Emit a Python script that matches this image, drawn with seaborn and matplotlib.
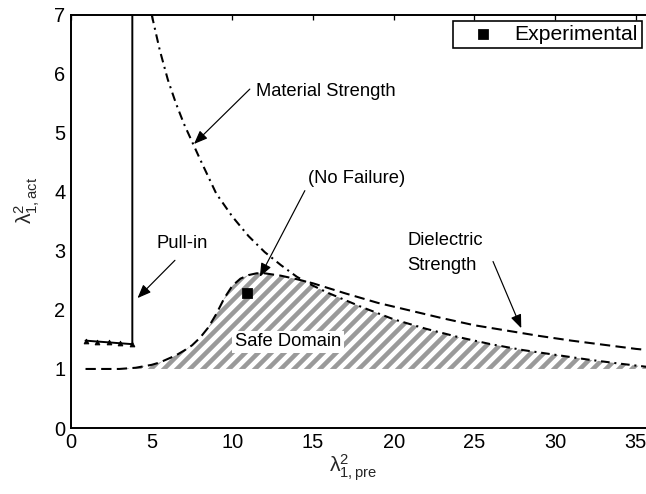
import numpy as np
import pandas as pd
import matplotlib
matplotlib.use("Agg")
import matplotlib.pyplot as plt
import seaborn as sns

# ---- data ----
dielectric_x = [0.9, 2, 3, 4, 5, 5.5, 6, 6.5, 7, 7.5, 8, 8.5, 9, 9.5, 10, 10.5,
                11, 11.5, 12, 13, 14, 15, 17, 19, 21, 23, 25, 27, 29, 31, 33, 35, 36.5]
dielectric_y = [1.0, 1.0, 1.0, 1.02, 1.07, 1.11, 1.17, 1.23, 1.31, 1.40, 1.53, 1.70,
                1.93, 2.2, 2.41, 2.53, 2.59, 2.62, 2.62, 2.58, 2.52, 2.45, 2.28, 2.12,
                1.99, 1.86, 1.74, 1.65, 1.56, 1.48, 1.41, 1.34, 1.30]

material_x = [5.0, 5.5, 6, 6.5, 7, 7.5, 8, 9, 10, 11, 12, 13, 14, 15, 16, 18, 20,
              22, 24, 26, 28, 30, 32, 34, 36.5]
material_y = [7.0, 6.4, 5.9, 5.5, 5.15, 4.85, 4.55, 3.97, 3.58, 3.25, 2.98, 2.76,
              2.56, 2.41, 2.28, 2.05, 1.84, 1.68, 1.54, 1.42, 1.32, 1.24, 1.16, 1.09, 1.01]

pullin_x = [0.9, 1.6, 2.35, 3.05, 3.8, 3.8]
pullin_y = [1.48, 1.465, 1.45, 1.435, 1.42, 7.0]

exp_x = [10.9]
exp_y = [2.28]

x_ticks = [0, 5, 10, 15, 20, 25, 30, 35]
y_ticks = [0, 1, 2, 3, 4, 5, 6, 7]

# ---- style ----
sns.set_theme(style="white")
DPI = 78
plt.rcParams.update({
    "font.family": ["Liberation Sans", "DejaVu Sans"],
    "mathtext.fontset": "custom",
    "mathtext.rm": "Liberation Sans",
    "mathtext.it": "Liberation Sans:italic",
    "mathtext.bf": "Liberation Sans:bold",
    "hatch.linewidth": 4.2,
    "hatch.color": "#9a9a9a",
    "axes.edgecolor": "black",
    "text.color": "black",
})

fig = plt.figure(figsize=(646 / DPI, 494 / DPI), dpi=DPI)
ax = fig.add_axes([71 / 646, 66 / 494, 581 / 646, 413.3 / 494])

# safe domain hatch
grid = np.linspace(min(dielectric_x), max(dielectric_x), 500)
upper = np.minimum(np.interp(grid, dielectric_x, dielectric_y),
                   np.interp(grid, material_x, material_y))
ax.fill_between(grid, 1.0, upper, facecolor="none", edgecolor="#9a9a9a",
                hatch="//", linewidth=0, zorder=1)

df_d = pd.DataFrame({"x": dielectric_x, "y": dielectric_y})
df_m = pd.DataFrame({"x": material_x, "y": material_y})
df_p = pd.DataFrame({"x": pullin_x, "y": pullin_y})
df_e = pd.DataFrame({"x": exp_x, "y": exp_y})

sns.lineplot(data=df_d, x="x", y="y", ax=ax, color="black", lw=1.9,
             estimator=None, sort=False, legend=False, zorder=3)
ax.lines[-1].set_dashes((5, 2.6))
sns.lineplot(data=df_m, x="x", y="y", ax=ax, color="black", lw=1.9,
             estimator=None, sort=False, legend=False, zorder=3)
ax.lines[-1].set_dashes((4.2, 2.3, 1.0, 2.3))
sns.lineplot(data=df_p, x="x", y="y", ax=ax, color="black", lw=1.8,
             estimator=None, sort=False, legend=False, zorder=3,
             marker="^", markersize=4.5, markevery=[0, 1, 2, 3, 4],
             markeredgecolor="black", markerfacecolor="black")
sns.scatterplot(data=df_e, x="x", y="y", ax=ax, color="black", marker="s",
                s=80, edgecolor="black", label="Experimental", zorder=4)

# annotations
tfs = 17
arrow = dict(arrowstyle="-|>,head_length=0.7,head_width=0.28", color="black",
             lw=1.1, shrinkA=0, shrinkB=0, mutation_scale=15)
ax.text(11.46, 5.70, "Material Strength", ha="left", va="center", fontsize=tfs)
ax.annotate("", xy=(7.62, 4.81), xytext=(11.08, 5.74), arrowprops=arrow)
ax.text(14.69, 4.22, "(No Failure)", ha="left", va="center", fontsize=tfs)
ax.annotate("", xy=(11.7, 2.56), xytext=(14.49, 4.02), arrowprops=arrow)
ax.text(5.31, 3.13, "Pull-in", ha="left", va="center", fontsize=tfs)
ax.annotate("", xy=(4.12, 2.2), xytext=(6.44, 2.84), arrowprops=arrow)
ax.text(20.85, 3.17, "Dielectric", ha="left", va="center", fontsize=tfs)
ax.text(20.85, 2.76, "Strength", ha="left", va="center", fontsize=tfs)
ax.annotate("", xy=(27.9, 1.69), xytext=(26.15, 2.82), arrowprops=arrow)
ax.text(10.15, 1.46, "Safe Domain", ha="left", va="center", fontsize=tfs,
        bbox=dict(facecolor="white", edgecolor="none", pad=2.5), zorder=5)

# axes
ax.set_xlim(0, 36)
ax.set_ylim(0, 7)
ax.set_xticks(x_ticks)
ax.set_yticks(y_ticks)
ax.tick_params(direction="in", top=True, right=True, length=4.5, width=1.2,
               labelsize=18.5, pad=5, colors="black")
for sp in ax.spines.values():
    sp.set_visible(True)
    sp.set_linewidth(1.8)
    sp.set_color("black")

ax.set_xlabel(r"$\mathrm{\lambda}^{2}_{\mathrm{1,pre}}$", fontsize=19.5)
ax.set_ylabel(r"$\mathrm{\lambda}^{2}_{\mathrm{1,act}}$", fontsize=19.5)
ax.xaxis.set_label_coords(0.485, -0.058)
ax.yaxis.set_label_coords(-0.05, 0.55)

leg = ax.legend(loc="upper right", bbox_to_anchor=(0.9828, 0.9855), borderaxespad=0,
                frameon=True, fancybox=False, edgecolor="black", framealpha=1,
                fontsize=19.5, handlelength=2.4, handletextpad=0.3, borderpad=0.2,
                scatterpoints=1)
leg.get_frame().set_linewidth(1.5)

fig.savefig("out.png", dpi=DPI)
